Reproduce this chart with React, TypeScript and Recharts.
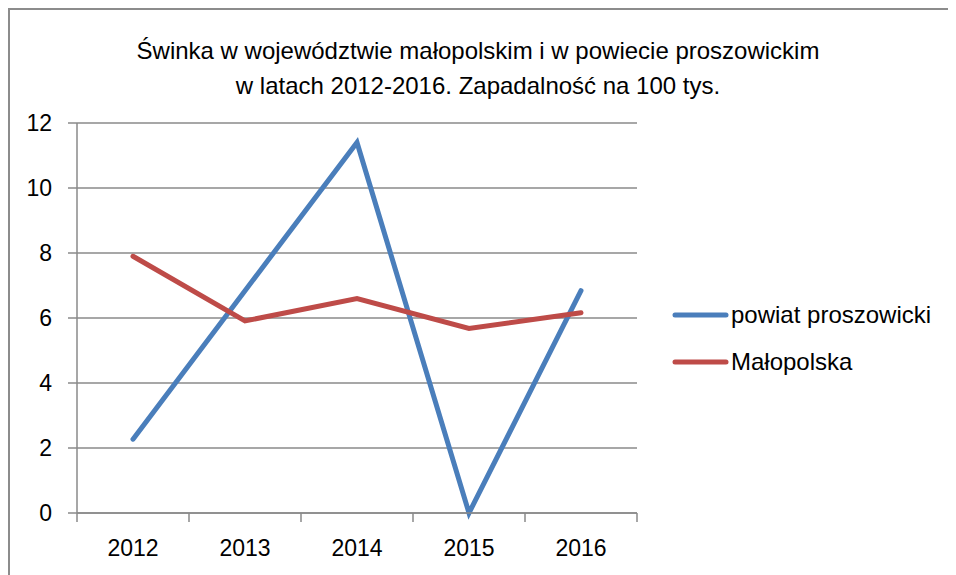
import { LineChart, Line, XAxis, YAxis, CartesianGrid } from "recharts";

const years = ["2012", "2013", "2014", "2015", "2016"];
const powiat = [2.27, 6.84, 11.4, 0, 6.84];
const malopolska = [7.9, 5.91, 6.6, 5.68, 6.16];
const yTicks = [0, 2, 4, 6, 8, 10, 12];

const data = years.map((year, i) => ({
    year,
    powiat: powiat[i],
    malopolska: malopolska[i],
}));

const BLUE = "#4a7ebb";
const RED = "#be4b48";
const GRID = "#8a8a8a";
const FONT = "'Liberation Sans', Arial, sans-serif";

const series = [
    { key: "powiat", name: "powiat proszowicki", color: BLUE },
    { key: "malopolska", name: "Małopolska", color: RED },
];

// category label plus Excel-style tick marks between categories
function YearTick(props: any) {
    const { x, y, payload, index } = props;
    const half = payload.offset || 0;
    const axisY = y - 27;
    const last = index === years.length - 1;
    return (
        <g>
            <line x1={x - half} y1={axisY} x2={x - half} y2={axisY + 9} stroke={GRID} strokeWidth={1.5} />
            {last && (
                <line x1={x + half} y1={axisY} x2={x + half} y2={axisY + 9} stroke={GRID} strokeWidth={1.5} />
            )}
            <text x={x} y={y} dy="0.71em" textAnchor="middle" fill="#000" fontSize={23} fontFamily={FONT}>
                {payload.value}
            </text>
        </g>
    );
}

function LegendBox() {
    return (
        <div
            style={{
                position: "absolute",
                left: 662,
                top: 281,
                fontSize: 24,
                color: "#000",
            }}
        >
            {series.map((s) => (
                <div key={s.key} style={{ display: "flex", alignItems: "center", height: 47 }}>
                    <svg width={57} height={10}>
                        <line x1={3} y1={5} x2={54} y2={5} stroke={s.color} strokeWidth={5} strokeLinecap="round" />
                    </svg>
                    <span style={{ marginLeft: 2 }}>{s.name}</span>
                </div>
            ))}
        </div>
    );
}

export default function App() {
    return (
        <div
            style={{
                position: "relative",
                width: 939,
                height: 580,
                border: "2px solid #8c8c8c",
                background: "#fff",
                fontFamily: FONT,
            }}
        >
            {/* Title */}
            <div
                style={{
                    position: "absolute",
                    left: 0,
                    width: 936,
                    top: 23,
                    textAlign: "center",
                    fontSize: 24,
                    lineHeight: "35px",
                    color: "#000",
                }}
            >
                Świnka w województwie małopolskim i w powiecie proszowickim
                <br />
                w latach 2012-2016. Zapadalność na 100 tys.
            </div>

            <LineChart
                width={939}
                height={565}
                data={data}
                margin={{ top: 113, right: 312, bottom: 22, left: 0 }}
            >
                <CartesianGrid vertical={false} stroke={GRID} strokeWidth={1.5} />
                <XAxis
                    dataKey="year"
                    scale="band"
                    height={40}
                    tickSize={0}
                    tickMargin={27}
                    tickLine={false}
                    interval={0}
                    axisLine={{ stroke: GRID, strokeWidth: 1.5 }}
                    tick={<YearTick />}
                />
                <YAxis
                    domain={[0, 12]}
                    ticks={yTicks}
                    width={67}
                    tickSize={9}
                    tickMargin={16}
                    axisLine={{ stroke: GRID, strokeWidth: 1.5 }}
                    tickLine={{ stroke: GRID, strokeWidth: 1.5 }}
                    tick={{ fill: "#000", fontSize: 23, fontFamily: FONT }}
                />
                {series.map((s) => (
                    <Line
                        key={s.key}
                        type="linear"
                        dataKey={s.key}
                        name={s.name}
                        stroke={s.color}
                        strokeWidth={5}
                        strokeLinecap="round"
                        dot={false}
                        activeDot={false}
                        isAnimationActive={false}
                    />
                ))}
            </LineChart>

            <LegendBox />
        </div>
    );
}
